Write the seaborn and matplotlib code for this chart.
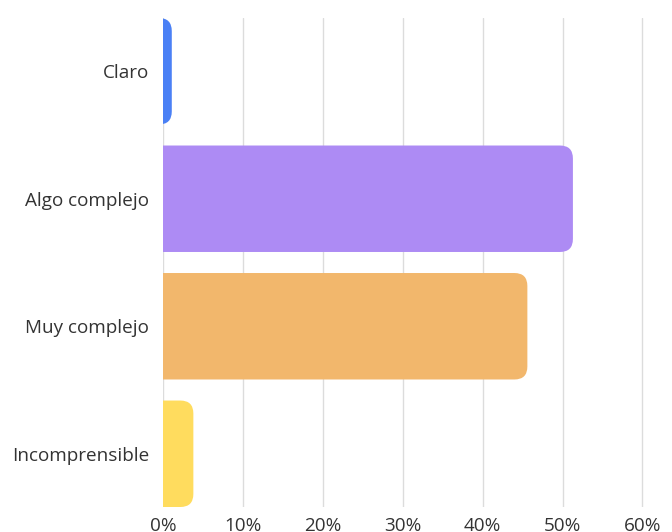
import matplotlib
matplotlib.use("Agg")
import matplotlib.pyplot as plt
import seaborn as sns
import pandas as pd
from matplotlib.patches import FancyBboxPatch
from matplotlib.ticker import FuncFormatter

categories = ["Claro", "Algo complejo", "Muy complejo", "Incomprensible"]
values = [1.1, 51.3, 45.6, 3.8]
colors = ["#4a80f5", "#ad8bf4", "#f2b76c", "#ffdc5e"]
xticks = [0, 10, 20, 30, 40, 50, 60]

sns.set_theme(style="white")
plt.rcParams['font.family'] = ['Open Sans', 'DejaVu Sans']

W, H = 672, 532
fig = plt.figure(figsize=(W / 100, H / 100), dpi=100)
ax_l, ax_r, ax_t, ax_b = 163, 672, 18, 507
ax = fig.add_axes([ax_l / W, 1 - ax_b / H, (ax_r - ax_l) / W, (ax_b - ax_t) / H])

df = pd.DataFrame({"cat": categories, "val": values})
bw = 0.835
sns.barplot(data=df, x="val", y="cat", hue="cat", palette=colors, legend=False,
            width=bw, saturation=1, ax=ax, zorder=3)

xmax = 63.7
ax.set_xlim(0, xmax)
ax.set_ylim(len(categories) - 1 + bw / 2, -bw / 2)

# rounded right corners
px_x = xmax / (ax_r - ax_l)
px_y = (len(categories) - 1 + bw) / (ax_b - ax_t)
r_px = 13
patches = list(ax.patches)
for p in patches:
    x0, y0 = p.get_x(), p.get_y()
    w, h = p.get_width(), p.get_height()
    fc = p.get_facecolor()
    p.remove()
    ext = 6.0
    fb = FancyBboxPatch((x0 - ext, y0), w + ext, h,
                        boxstyle=f"round,pad=0,rounding_size={r_px * px_x}",
                        mutation_aspect=px_y / px_x,
                        facecolor=fc, edgecolor="none", zorder=3)
    ax.add_patch(fb)

ax.set_xticks(xticks)
ax.xaxis.set_major_formatter(FuncFormatter(lambda v, _: f"{int(v)}%"))
ax.grid(axis="x", color="#dcdcdc", linewidth=1.0, zorder=0)
ax.grid(axis="y", visible=False)
for s in ax.spines.values():
    s.set_visible(False)
ax.set_xlabel("")
ax.set_ylabel("")
ax.tick_params(axis="y", length=0, pad=10, labelsize=13.6, labelcolor="#333333")
ax.tick_params(axis="x", length=0, pad=7, labelsize=13.6, labelcolor="#333333")

fig.savefig("out.png", dpi=100)
